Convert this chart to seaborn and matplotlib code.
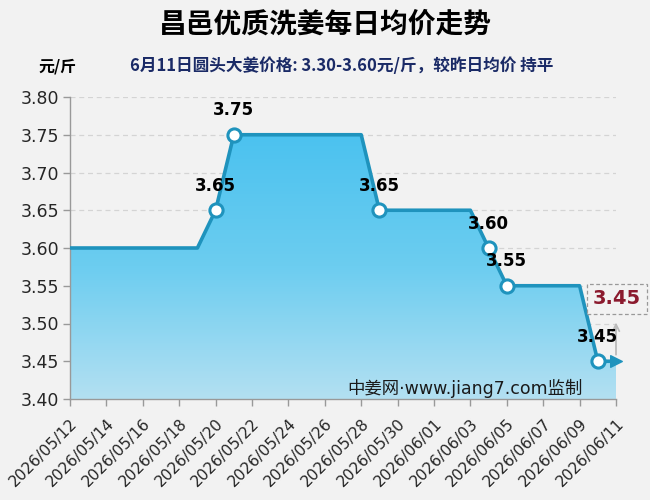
import numpy as np
import pandas as pd
import matplotlib
matplotlib.use("Agg")
import matplotlib.pyplot as plt
import matplotlib.dates as mdates
from matplotlib.patches import Polygon
from matplotlib.colors import LinearSegmentedColormap
import seaborn as sns

# ---- data ----
dates = pd.date_range("2026-05-12", "2026-06-11", freq="D")
prices = ([3.60] * 8 + [3.65] + [3.75] * 8 + [3.65] * 6 + [3.60] +
          [3.55] * 5 + [3.45] * 2)
marker_dates = ["2026-05-20", "2026-05-21", "2026-05-29", "2026-06-04",
                "2026-06-05", "2026-06-10"]
yticks = [3.40, 3.45, 3.50, 3.55, 3.60, 3.65, 3.70, 3.75, 3.80]
xtick_dates = pd.date_range("2026-05-12", "2026-06-11", freq="2D")
title = "昌邑优质洗姜每日均价走势"
subtitle = "6月11日圆头大姜价格: 3.30-3.60元/斤，较昨日均价 持平"
unit = "元/斤"
watermark = "中姜网·www.jiang7.com监制"
latest = 3.45

df = pd.DataFrame({"date": dates, "price": prices})

sns.set_theme(style="white")
plt.rcParams["font.family"] = ["DejaVu Sans", "Noto Sans CJK SC"]
cjk = ["Noto Sans CJK SC", "DejaVu Sans"]

BG = "#f2f2f2"
LINE = "#1f93bd"

fig = plt.figure(figsize=(6.5, 5), dpi=100, facecolor=BG)
ax = fig.add_axes([0.1077, 0.202, 0.84, 0.604], facecolor=BG)

ymin, ymax = 3.40, 3.80
x0 = mdates.date2num(dates[0])
x1 = mdates.date2num(dates[-1])

# gradient fill under the line
grad = np.linspace(0, 1, 256).reshape(-1, 1)
cmap = LinearSegmentedColormap.from_list("g", ["#b3e0f2", "#6ccdf0", "#4bc2ef"])
im = ax.imshow(grad, extent=[x0, x1, ymin, 3.75], origin="lower", cmap=cmap,
               aspect="auto", zorder=1)
xs = mdates.date2num(dates)
verts = [(x0, ymin)] + list(zip(xs, prices)) + [(x1, ymin)]
poly = Polygon(verts, closed=True, facecolor="none", edgecolor="none")
ax.add_patch(poly)
im.set_clip_path(poly)

# grid
for y in yticks[1:]:
    ax.axhline(y, color="#d4d4d4", lw=0.9, ls=(0, (4, 3)), zorder=0.5)

sns.lineplot(data=df, x="date", y="price", ax=ax, color=LINE, lw=2.6, zorder=3)

mdf = df[df["date"].isin(pd.to_datetime(marker_dates))]
ax.scatter(mdf["date"], mdf["price"], s=90, facecolor="white",
           edgecolor=LINE, linewidth=2.2, zorder=4)
for d, p in zip(mdf["date"], mdf["price"]):
    ax.annotate(f"{p:.2f}", (d, p), xytext=(0, 11), textcoords="offset points",
                ha="center", va="bottom", fontsize=12, fontweight="bold",
                color="black", zorder=5)

# arrow marker at last point
ax.scatter([dates[-1]], [prices[-1]], marker=">", s=70, color=LINE, zorder=4,
           clip_on=False)

ax.set_xlim(x0, x1)
ax.set_ylim(ymin, ymax)
ax.set_yticks(yticks)
ax.set_yticklabels([f"{v:.2f}" for v in yticks], fontsize=12.5)
ax.set_xticks(mdates.date2num(xtick_dates))
ax.set_xticklabels([d.strftime("%Y/%m/%d") for d in xtick_dates], rotation=45,
                   ha="right", rotation_mode="anchor", fontsize=11.2)
ax.tick_params(axis="both", length=5, width=1, color="#999999", direction="out",
               bottom=True, left=True, pad=3)
ax.tick_params(axis="x", pad=7)
ax.set_xlabel("")
ax.set_ylabel("")
for s in ["top", "right"]:
    ax.spines[s].set_visible(False)
for s in ["left", "bottom"]:
    ax.spines[s].set_color("#999999")
    ax.spines[s].set_linewidth(1)

# callout
ax.annotate("", xy=(x1, 3.505), xytext=(x1, 3.455),
            arrowprops=dict(arrowstyle="->", color="#bbbbbb", lw=1.3), zorder=2)
fig.text(617 / 650, 1 - 299 / 500, f"{latest:.2f}", ha="center", va="center",
         fontsize=14, fontweight="bold", color="#8b1a2e",
         bbox=dict(boxstyle="square,pad=0.3", facecolor=BG, edgecolor="#999999",
                   linestyle=(0, (3, 2)), lw=0.9))

# texts
fig.text(0.5, 1 - 25 / 500, title, ha="center", va="center", fontsize=20,
         fontweight="bold", family=cjk, color="black")
fig.text(58 / 650, 1 - 66 / 500, unit, ha="center", va="center", fontsize=11.5,
         family=cjk, color="black", fontweight="bold")
fig.text(342 / 650, 1 - 66 / 500, subtitle, ha="center", va="center",
         fontsize=12, family=cjk, color="#1a2a66", fontweight="bold")
fig.text(465 / 650, 1 - 388 / 500, watermark, ha="center", va="center",
         fontsize=12.5, family=["DejaVu Sans", "Noto Sans CJK SC"],
         color="#1a1a1a")

fig.savefig("out.png", dpi=100, facecolor=BG)
